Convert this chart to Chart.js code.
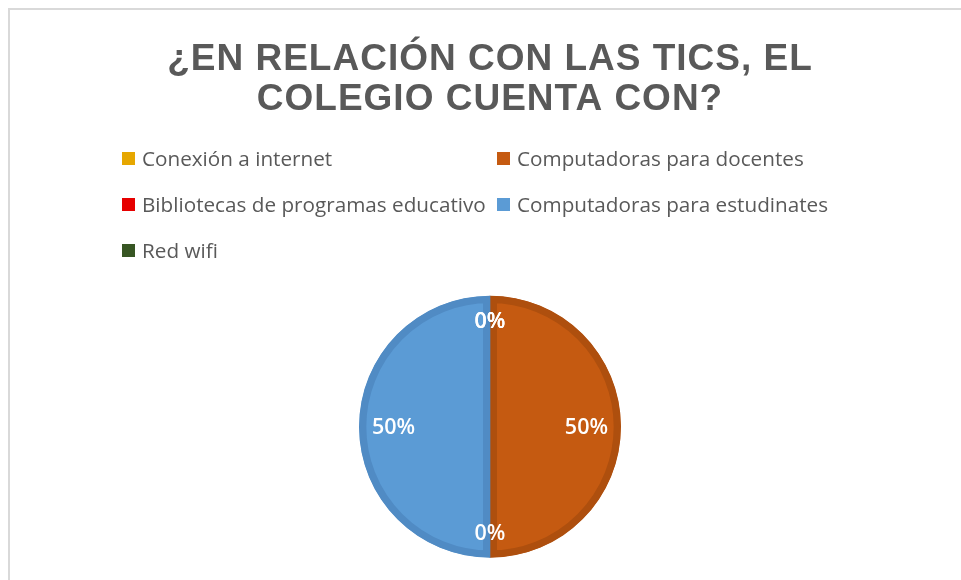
<!DOCTYPE html>
<html>
<head>
<meta charset="utf-8">
<script src="https://cdn.jsdelivr.net/npm/chart.js@4"></script>
<style>
  body { margin: 0; background: #fff; overflow: hidden; }
  #marco { position: absolute; left: 8px; top: 8px; width: 1000px; height: 700px;
           border-top: 2px solid #d9d9d9; border-left: 2px solid #d9d9d9; }
  #grafico { position: absolute; left: 0; top: 0; }
  #leyenda { position: absolute; left: 122px; top: 135px;
             display: grid; grid-template-columns: 375px 380px; grid-auto-rows: 46px;
             font-family: "Open Sans", "Noto Sans", sans-serif; font-size: 20.7px; color: #595959; }
  .item { display: flex; align-items: center; white-space: nowrap; }
  .caja { width: 13px; height: 13px; margin-right: 7px; flex: none; }
</style>
</head>
<body>
<div id="marco"></div>
<canvas id="grafico" width="961" height="580"></canvas>
<div id="leyenda"></div>
<script>
var categorias = ["Conexión a internet", "Computadoras para docentes", "Bibliotecas de programas educativo", "Computadoras para estudinates", "Red wifi"];
var valores = [0, 50, 0, 50, 0];
var colores = ["#E6A700", "#C55A11", "#E60000", "#5B9BD5", "#375623"];
var bordes = ["#CF9600", "#AE4F0E", "#CC0000", "#508BC4", "#2E4A1E"];
var titulo = ["¿EN RELACIÓN CON LAS TICS, EL", "COLEGIO CUENTA CON?"];

// leyenda en dos columnas como en excel
var leyenda = document.getElementById("leyenda");
for (let i = 0; i < categorias.length; i++) {
    let item = document.createElement("div");
    item.className = "item";
    item.innerHTML = '<span class="caja" style="background:' + colores[i] + '"></span>' + categorias[i];
    leyenda.appendChild(item);
}

var espaciado = {
    id: "espaciado",
    beforeDraw: function (chart) { chart.ctx.letterSpacing = "1px"; },
    beforeDatasetsDraw: function (chart) { chart.ctx.letterSpacing = "0px"; }
};

// etiquetas dentro del pastel, pegadas al borde (tipo "mejor ajuste")
var etiquetas = {
    id: "etiquetas",
    afterDatasetsDraw: function (chart) {
        var ctx = chart.ctx;
        var meta = chart.getDatasetMeta(0);
        var total = valores.reduce(function (a, b) { return a + b; }, 0);
        ctx.save();
        ctx.fillStyle = "#ffffff";
        ctx.font = "600 21.5px 'Open Sans', sans-serif";
        ctx.textAlign = "center";
        ctx.textBaseline = "middle";
        meta.data.forEach(function (arco, i) {
            var p = arco.getProps(["x", "y", "startAngle", "endAngle", "outerRadius"], true);
            var ang = (p.startAngle + p.endAngle) / 2;
            var txt = Math.round(valores[i] / total * 100) + "%";
            var w = ctx.measureText(txt).width;
            var r = p.outerRadius - 13 - (Math.abs(Math.cos(ang)) * w / 2 + Math.abs(Math.sin(ang)) * 12);
            ctx.fillText(txt, p.x + Math.cos(ang) * r, p.y + Math.sin(ang) * r + 1);
        });
        ctx.restore();
    }
};

new Chart(document.getElementById("grafico"), {
    type: "pie",
    data: {
        labels: categorias,
        datasets: [{
            data: valores,
            backgroundColor: colores,
            borderColor: bordes,
            borderWidth: 7,
            borderAlign: "inner",
            radius: 131
        }]
    },
    options: {
        responsive: false,
        animation: false,
        events: [],
        layout: { padding: { top: 0, bottom: 23, left: 19, right: 0 } },
        plugins: {
            legend: { display: false },
            tooltip: { enabled: false },
            title: {
                display: true,
                text: titulo,
                color: "#595959",
                font: { family: "'Liberation Sans', Arial, sans-serif", size: 37, weight: "bold", lineHeight: 1.1 },
                padding: { top: 39, bottom: 176 }
            }
        }
    },
    plugins: [espaciado, etiquetas]
});
</script>
</body>
</html>
